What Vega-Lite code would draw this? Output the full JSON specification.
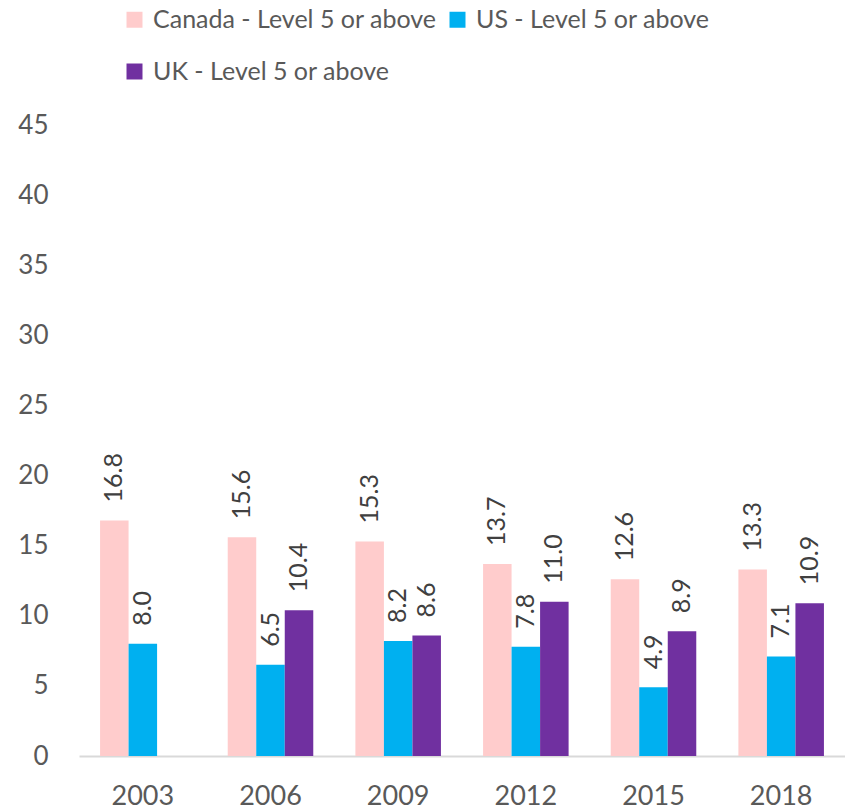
{
  "$schema": "https://vega.github.io/schema/vega-lite/v6.json",
  "width": 766,
  "height": 631,
  "autosize": "none",
  "padding": {"left": 79, "top": 125, "right": 0, "bottom": 55},
  "background": "white",
  "config": {
    "view": {"stroke": null},
    "font": "Lato",
    "text": {"font": "Lato"}
  },
  "data": {
    "values": [
      {"year": "2003", "series": "Canada - Level 5 or above", "value": 16.8},
      {"year": "2003", "series": "US - Level 5 or above", "value": 8.0},
      {"year": "2006", "series": "Canada - Level 5 or above", "value": 15.6},
      {"year": "2006", "series": "US - Level 5 or above", "value": 6.5},
      {"year": "2006", "series": "UK - Level 5 or above", "value": 10.4},
      {"year": "2009", "series": "Canada - Level 5 or above", "value": 15.3},
      {"year": "2009", "series": "US - Level 5 or above", "value": 8.2},
      {"year": "2009", "series": "UK - Level 5 or above", "value": 8.6},
      {"year": "2012", "series": "Canada - Level 5 or above", "value": 13.7},
      {"year": "2012", "series": "US - Level 5 or above", "value": 7.8},
      {"year": "2012", "series": "UK - Level 5 or above", "value": 11.0},
      {"year": "2015", "series": "Canada - Level 5 or above", "value": 12.6},
      {"year": "2015", "series": "US - Level 5 or above", "value": 4.9},
      {"year": "2015", "series": "UK - Level 5 or above", "value": 8.9},
      {"year": "2018", "series": "Canada - Level 5 or above", "value": 13.3},
      {"year": "2018", "series": "US - Level 5 or above", "value": 7.1},
      {"year": "2018", "series": "UK - Level 5 or above", "value": 10.9}
    ]
  },
  "encoding": {
    "x": {
      "field": "year",
      "type": "nominal",
      "title": null,
      "scale": {"paddingInner": 0.33, "paddingOuter": 0.165},
      "axis": {
        "labelAngle": 0,
        "labelFontSize": 27,
        "labelColor": "#595959",
        "labelPadding": 27,
        "ticks": false,
        "domainColor": "#d9d9d9",
        "domainWidth": 2,
        "grid": false
      }
    },
    "xOffset": {
      "field": "series",
      "type": "nominal",
      "scale": {"domain": ["Canada - Level 5 or above", "US - Level 5 or above", "UK - Level 5 or above"], "paddingInner": 0, "paddingOuter": 0}
    },
    "y": {
      "field": "value",
      "type": "quantitative",
      "title": null,
      "scale": {"domain": [0, 45], "nice": false},
      "axis": {
        "values": [0, 5, 10, 15, 20, 25, 30, 35, 40, 45],
        "labelFontSize": 26,
        "labelColor": "#595959",
        "labelPadding": 31,
        "ticks": false,
        "domain": false,
        "grid": false
      }
    }
  },
  "layer": [
    {
      "mark": {"type": "bar"},
      "encoding": {
        "color": {
          "field": "series",
          "type": "nominal",
          "title": null,
          "scale": {
            "domain": ["Canada - Level 5 or above", "US - Level 5 or above", "UK - Level 5 or above"],
            "range": ["#FFCCCC", "#00B0F0", "#7030A0"]
          },
          "legend": {
            "orient": "none",
            "legendX": 43,
            "legendY": -118,
            "direction": "horizontal",
            "columns": 2,
            "symbolType": "square",
            "symbolSize": 256,
            "symbolStrokeWidth": 0,
            "labelFontSize": 25,
            "labelColor": "#595959",
            "labelLimit": 400,
            "columnPadding": 8,
            "rowPadding": 26,
            "labelOffset": 6
          }
        }
      }
    },
    {
      "mark": {"type": "text", "angle": -90, "align": "left", "baseline": "middle", "dx": 18, "fontSize": 25, "color": "#404040"},
      "encoding": {
        "text": {"field": "value", "type": "quantitative", "format": ".1f"}
      }
    }
  ]
}
